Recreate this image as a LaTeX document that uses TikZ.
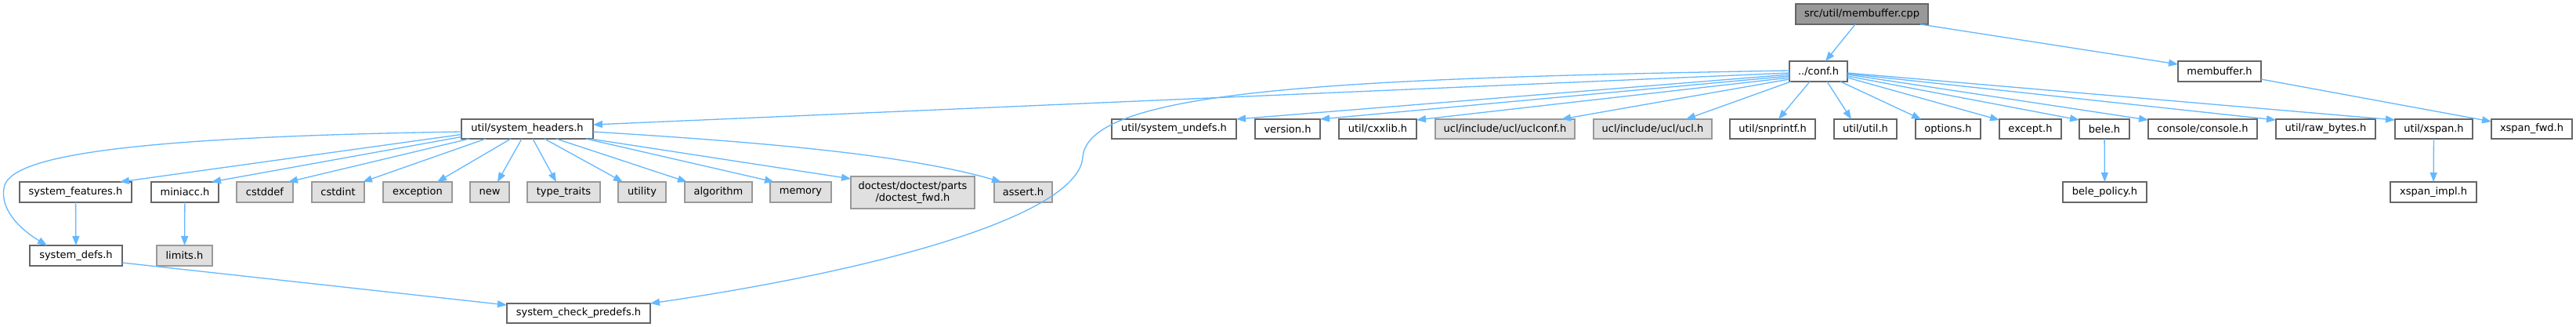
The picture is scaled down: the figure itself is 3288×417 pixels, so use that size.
\documentclass[tikz,border=0pt]{standalone}
\usepackage{fontspec}
\setmainfont{DejaVu Sans}
\usetikzlibrary{arrows.meta}
\definecolor{edgec}{HTML}{63B8FF}
\definecolor{bordw}{HTML}{666666}
\definecolor{bordg}{HTML}{999999}
\definecolor{fillg}{HTML}{E0E0E0}
\definecolor{fillr}{HTML}{999999}
\tikzset{
  box/.style={rectangle, inner sep=0pt, outer sep=0pt, line width=1.4pt, font=\fontsize{13}{15}\selectfont, text=black, align=center},
  wbox/.style={box, draw=bordw, fill=white},
  gbox/.style={box, draw=bordg, fill=fillg},
  rbox/.style={box, draw=bordw, fill=fillr},
  edge/.style={draw=edgec, line width=1.3pt, -{Triangle[length=12pt,width=9pt]}},
}
\newcommand{\nd}[7]{\node[#6, minimum width={(#3-#2)*1pt}, minimum height={(#5-#4)*1pt}] (#1) at ({(#2+#3)/2},{(#4+#5)/2}) {#7};}
\begin{document}
\begin{tikzpicture}[x=1pt,y=-1pt]
\useasboundingbox[fill=white] (0,0) rectangle (3288,417);
% rank 0 / 1
\nd{cpp}{2292}{2461}{5}{31}{rbox}{src/util/membuffer.cpp}
\nd{conf}{2284}{2358}{78}{104}{wbox}{../conf.h}
\nd{mb}{2780}{2886}{78}{104}{wbox}{membuffer.h}
% rank 2
\nd{sh}{589}{757}{152}{177}{wbox}{util/system\_headers.h}
\nd{sund}{1419}{1578}{152}{177}{wbox}{util/system\_undefs.h}
\nd{ver}{1602}{1685}{152}{177}{wbox}{version.h}
\nd{cxx}{1709}{1808}{152}{177}{wbox}{util/cxxlib.h}
\nd{uclc}{1832}{2010}{152}{177}{gbox}{ucl/include/ucl/uclconf.h}
\nd{ucl}{2034}{2185}{152}{177}{gbox}{ucl/include/ucl/ucl.h}
\nd{snp}{2208}{2317}{152}{177}{wbox}{util/snprintf.h}
\nd{uti}{2341}{2421}{152}{177}{wbox}{util/util.h}
\nd{opt}{2445}{2528}{152}{177}{wbox}{options.h}
\nd{exc}{2552}{2631}{152}{177}{wbox}{except.h}
\nd{bele}{2654}{2718}{152}{177}{wbox}{bele.h}
\nd{cons}{2742}{2881}{152}{177}{wbox}{console/console.h}
\nd{raw}{2905}{3032}{152}{177}{wbox}{util/raw\_bytes.h}
\nd{xsp}{3057}{3156}{152}{177}{wbox}{util/xspan.h}
\nd{xfwd}{3180}{3283}{152}{177}{wbox}{xspan\_fwd.h}
% rank 3
\nd{sf}{25}{168}{232}{258}{wbox}{system\_features.h}
\nd{mini}{193}{279}{232}{258}{wbox}{miniacc.h}
\nd{cdd}{302}{374}{232}{258}{gbox}{cstddef}
\nd{cdi}{398}{465}{232}{258}{gbox}{cstdint}
\nd{excp}{489}{577}{232}{258}{gbox}{exception}
\nd{new}{600}{650}{232}{258}{gbox}{new}
\nd{tt}{673}{766}{232}{258}{gbox}{type\_traits}
\nd{utl}{789}{850}{232}{258}{gbox}{utility}
\nd{algo}{874}{960}{232}{258}{gbox}{algorithm}
\nd{mem}{983}{1061}{232}{258}{gbox}{memory}
\nd{doc}{1086}{1244}{225}{266}{gbox}{doctest/doctest/parts\\/doctest\_fwd.h}
\nd{ass}{1269}{1343}{232}{258}{gbox}{assert.h}
\nd{bp}{2633}{2740}{232}{258}{wbox}{bele\_policy.h}
\nd{ximp}{3051}{3161}{232}{258}{wbox}{xspan\_impl.h}
% rank 4 / 5
\nd{sd}{38}{156}{313}{339}{wbox}{system\_defs.h}
\nd{lim}{200}{271}{313}{339}{gbox}{limits.h}
\nd{pd}{647}{830}{387}{412}{wbox}{system\_check\_predefs.h}

% edges from root
\draw[edge] ([xshift=-8.5pt]cpp.south) -- ([xshift=9pt]conf.north);
\draw[edge] ([xshift=-10pt]cpp.south east) -- ([yshift=-4pt]mb.north west);
\draw[edge] ([yshift=-10pt]mb.east) -- ([yshift=-3pt]xfwd.north west);
% edges from conf.h
\draw[edge] ([yshift=-2pt]conf.west) -- ([yshift=5.5pt]sh.east);
\draw[edge] ([yshift=1pt]conf.west) .. controls (1700,100) and (1390,115) .. (1382,200)
  .. controls (1378,270) and (1150,340) .. (pd.north east);
\draw[edge] ([yshift=-4pt]conf.west) -- (sund.north east);
\draw[edge] ([yshift=-6pt]conf.west) -- (ver.north east);
\draw[edge] ([yshift=-8pt]conf.west) -- ([yshift=-1pt]cxx.north east);
\draw[edge] ([yshift=-10pt]conf.west) -- ([xshift=-17pt]uclc.north east);
\draw[edge] ([xshift=2pt]conf.south west) -- ([xshift=-33pt]ucl.north east);
\draw[edge] ([xshift=-11pt]conf.south) -- ([xshift=7.5pt]snp.north);
\draw[edge] ([xshift=11pt]conf.south) -- ([xshift=-18pt]uti.north);
\draw[edge] ([xshift=28pt]conf.south) -- ([xshift=7pt]opt.north west);
\draw[edge] ([yshift=-8pt]conf.east) -- ([yshift=-1pt]exc.north west);
\draw[edge] ([yshift=-6pt]conf.east) -- ([yshift=-1pt]bele.north west);
\draw[edge] ([yshift=-4pt]conf.east) -- ([yshift=-1pt]cons.north west);
\draw[edge] ([yshift=-3pt]conf.east) -- ([yshift=-1pt]raw.north west);
\draw[edge] ([yshift=-2pt]conf.east) -- ([yshift=-1pt]xsp.north west);
\draw[edge] (bele) -- (bp);
\draw[edge] (xsp) -- (ximp);
% edges from system_headers
\draw[edge] ([yshift=-3.5pt]sh.west) .. controls (150,175) and (10,200) .. (5,240)
  .. controls (0,270) and (30,295) .. ([xshift=22pt]sd.north west);
\draw[edge] ([yshift=-7pt]sh.west) -- ([xshift=-15pt]sf.north east);
\draw[edge] ([yshift=-10pt]sh.west) -- ([xshift=-9pt]mini.north east);
\draw[edge] ([xshift=10pt]sh.south west) -- ([xshift=-6pt]cdd.north east);
\draw[edge] ([xshift=31pt]sh.south west) -- ([xshift=-2pt]cdi.north east);
\draw[edge] ([xshift=-21pt]sh.south) -- ([xshift=-19pt]excp.north east);
\draw[edge] ([xshift=-7pt]sh.south) -- ([xshift=-15pt]new.north east);
\draw[edge] ([xshift=7pt]sh.south) -- ([xshift=-9.5pt]tt.north);
\draw[edge] ([xshift=22pt]sh.south) -- ([xshift=6pt]utl.north west);
\draw[edge] ([xshift=37pt]sh.south) -- ([xshift=3pt]algo.north west);
\draw[edge] ([xshift=-9pt]sh.south east) -- ([xshift=5pt]mem.north west);
\draw[edge] ([xshift=-4pt]sh.south east) -- ([yshift=-3pt]doc.north west);
\draw[edge] ([yshift=-3.5pt]sh.east) .. controls (950,180) and (1150,195) .. ([xshift=9pt]ass.north west);
\draw[edge] (sf) -- (sd);
\draw[edge] (mini) -- (lim);
\draw[edge] ([yshift=-9pt]sd.east) -- ([yshift=-2pt]pd.north west);
\end{tikzpicture}
\end{document}
